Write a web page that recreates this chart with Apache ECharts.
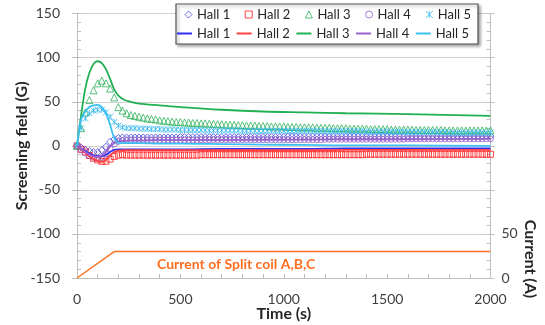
<!DOCTYPE html>
<html>
<head>
<meta charset="utf-8">
<script src="https://cdn.jsdelivr.net/npm/echarts@6/dist/echarts.min.js"></script>
<style>html,body{margin:0;padding:0;background:#fff}#c{width:545px;height:325px}</style>
</head>
<body>
<div id="c"></div>
<script>
// ---- Data ----
const legendNames = ['Hall 1', 'Hall 2', 'Hall 3', 'Hall 4', 'Hall 5'];
// marker sample times (s)
const markerT = [0,20,40,60,80,100,120,140,160,180,200,220,240,260,280,300,320,340,360,380,
400,420,440,460,480,500,520,540,560,580,600,620,640,660,680,700,720,740,760,780,
800,820,840,860,880,900,920,940,960,980,1000,1020,1040,1060,1080,1100,1120,1140,1160,1180,
1200,1220,1240,1260,1280,1300,1320,1340,1360,1380,1400,1420,1440,1460,1480,1500,1520,1540,1560,1580,
1600,1620,1640,1660,1680,1700,1720,1740,1760,1780,1800,1820,1840,1860,1880,1900,1920,1940,1960,1980,2000];
const hall1M = [0,-2,-4.5,-6,-7,-7,-5,-1,4.5,7.5,
9,9.5,9.5,9.5,9.5,9.5,9.5,9.5,9.5,9.5,
9.5,9.5,9.5,9.5,9.5,10,10,10,10,10,
10,10,10,10,10,10,10,10,10,10,
10,10,10,10,10,10,10,10,10,10,
10,10.5,10.5,10.5,10.5,10.5,10.5,10.5,10.5,10.5,
10.5,10.5,10.5,10.5,10.5,10.5,10.5,10.5,10.5,10.5,
10.5,10.5,10.5,10.5,10.5,10.5,10.5,10.5,10.5,10.5,
11,11,11,11,11,11,11,11,11,11,
11,11,11,11,11,11,11,11,11,11,11];
const hall2M = [0,-4,-7,-11,-14,-16,-17.5,-17.5,-15,-12,
-10.5,-10,-10.5,-10.5,-10.5,-10.5,-10.5,-10.5,-10.5,-10.5,
-10.5,-10.5,-10.5,-10.5,-10.5,-10.5,-10.5,-10.5,-10.5,-10.5,
-10,-10,-10,-10,-10,-10,-10,-10,-10,-10,
-10,-10,-10,-10,-10,-10,-10,-10,-10,-10,
-10,-10,-10,-10,-10,-10,-10,-10,-10,-10,
-10,-10,-10,-10,-10,-10,-10,-10,-10,-10,
-9.5,-9.5,-9.5,-9.5,-9.5,-9.5,-9.5,-9.5,-9.5,-9.5,
-9.5,-9.5,-9.5,-9.5,-9.5,-9.5,-9.5,-9.5,-9.5,-9.5,
-9.5,-9.5,-9.5,-9.5,-9.5,-9.5,-9.5,-9.5,-9.5,-9.5,-9.5];
const hall3M = [0,20,38,52,63,71,74,71,65,55,
44,40,37,35,34,33,32,31,30.5,30,
29,28.5,28,27.5,27,27,26.5,26.5,26,26,
25.5,25.5,25,25,24.5,24.5,24,24,24,23.5,
23.5,23,23,23,22.5,22.5,22.5,22,22,22,
22,21.5,21.5,21.5,21,21,21,21,20.5,20.5,
20.5,20.5,20,20,20,20,19.5,19.5,19.5,19.5,
19.5,19,19,19,19,19,18.5,18.5,18.5,18.5,
18.5,18.5,18,18,18,18,18,18,18,17.5,
17.5,17.5,17.5,17.5,17.5,17.5,17.5,17.5,17.5,17.5,17.5];
const hall4M = [0,-4,-8,-11,-13,-14,-13,-9,-3,2,
5,6,6.5,6.5,6.5,6.5,6.5,6.5,6.5,6.5,
6.5,6.5,6.5,6.5,6.5,6.5,6.5,6.5,6.5,6.5,
7,7,7,7,7,7,7,7,7,7,
7,7,7,7,7,7,7,7,7,7,
7,7,7,7,7,7,7,7,7,7,
7.5,7.5,7.5,7.5,7.5,7.5,7.5,7.5,7.5,7.5,
7.5,7.5,7.5,7.5,7.5,7.5,7.5,7.5,7.5,7.5,
8,8,8,8,8,8,8,8,8,8,
8,8,8,8,8,8,8,8,8,8,8];
const hall5M = [0,20,31,37,40,41,41,38,33,27,
23,21,20,20,20,19.5,19.5,19.5,19,19,
19,18.5,18.5,18.5,18.5,18,18,18,18,18,
18,17.5,17.5,17.5,17.5,17.5,17.5,17.5,17.5,17.5,
17,17,17,17,17,17,17,17,17,17,
17,17,17,17,17,17,17,17,17,17,
16.5,16.5,16.5,16.5,16.5,16.5,16.5,16.5,16.5,16.5,
16,16,16,16,16,16,16,16,16,16,
15.5,15.5,15.5,15.5,15.5,15.5,15.5,15.5,15.5,15.5,
15,15,15,15,15,15,15,15,15,15,15];
// solid-line sample times (s)
const lineT = [0,20,40,60,80,100,120,140,160,180,200,230,260,300,400,500,700,900,1100,1300,1600,2000];
const hall1L = [0,-3,-6,-9,-11,-12,-12,-10,-7,-4.5,-4,-4,-4,-4,-4,-4,-3.5,-3.5,-3.5,-3,-3,-3];
const hall2L = [0,-4,-8,-12,-15,-17,-18,-16,-11,-7,-5.5,-5,-5,-5,-5,-5,-5,-5,-5,-4.5,-4.5,-4.5];
const hall3L = [0,35,65,83,93,96,94,87,76,64,57,52,50,48,46,44,41,39,38,37,36,34];
const hall4L = [0,-3,-7,-10,-12,-12.5,-11,-7,-1,3,5,5.5,6,6,6.5,6.5,6.5,7,7,7.5,7.5,8];
const hall5L = [0,30,39,44,46,46.5,44,37,24,9,3.5,3,3,3,2.5,2.5,2,1.5,1,0.5,0.5,0];
// coil current
const currentT = [0,180,2000];
const currentA = [0,30,30];
const xTicks = {min:0, max:2000, step:500};
const yTicks = {min:-150, max:150, step:50};
const rTicks = {min:0, max:300, step:50, shownMax:50};

// ---- Styles ----
const colorsM = ['#4646dc', '#ff1a1a', '#2fb25a', '#8e5cc6', '#2cb5ee'];
const colorsL = ['#2e2ef5', '#ff4040', '#22b055', '#9a62cc', '#3cc0f2'];
const symbols = ['diamond', 'rect', 'triangle', 'circle', 'path://M0,0L10,10M0,10L10,0M5,0L5,10'];
const symSizes = [7, 6, 7, 6, 6];
const markerVals = [hall1M, hall2M, hall3M, hall4M, hall5M];
const lineVals = [hall1L, hall2L, hall3L, hall4L, hall5L];
const FONT = 'Lato';
const axisGray = '#bfbfbf';

const series = [];
legendNames.forEach((n, k) => {
  series.push({
    name: n, type: 'scatter', yAxisIndex: 0,
    symbol: symbols[k], symbolSize: symSizes[k],
    itemStyle: {color: 'rgba(0,0,0,0)', borderColor: colorsM[k], borderWidth: 1},
    data: markerT.map((t, i) => [t, markerVals[k][i]]),
    z: 2
  });
});
legendNames.forEach((n, k) => {
  series.push({
    name: n + '|L', type: 'line', yAxisIndex: 0, symbol: 'none', smooth: 0.3,
    lineStyle: {color: colorsL[k], width: 1.8}, itemStyle: {color: colorsL[k]},
    data: lineT.map((t, i) => [t, lineVals[k][i]]),
    z: 3
  });
});
series.push({
  name: 'Current', type: 'line', yAxisIndex: 1, symbol: 'none',
  lineStyle: {color: '#ff7020', width: 1.5},
  data: currentT.map((t, i) => [t, currentA[i]]), z: 3
});

const legendText = {fontFamily: FONT, fontSize: 13, color: '#262626'};

const option = {
  animation: false,
  textStyle: {fontFamily: FONT},
  grid: {left: 77, right: 54.5, top: 13.7, bottom: 47, containLabel: false, outerBoundsMode: 'none'},
  legend: [
    {left: 184.5, top: 8, padding: 0, itemWidth: 7, itemHeight: 7, itemGap: 14.5, selectedMode: false, z: 10,
     symbolKeepAspect: true,
     textStyle: legendText,
     data: legendNames.map((n, k) => ({
       name: n, icon: symbols[k],
       itemStyle: {color: 'rgba(0,0,0,0)', borderColor: colorsM[k], borderWidth: 1}
     }))},
    {left: 177, top: 27, padding: 0, itemWidth: 15, itemHeight: 2, itemGap: 6.5, selectedMode: false, z: 10,
     textStyle: legendText, formatter: name => name.split('|')[0],
     data: legendNames.map(n => ({name: n + '|L', icon: 'rect'}))}
  ],
  xAxis: {
    type: 'value', min: xTicks.min, max: xTicks.max, interval: xTicks.step,
    axisLine: {show: true, onZero: false, lineStyle: {color: axisGray}},
    axisTick: {show: true, inside: true, length: 4, lineStyle: {color: axisGray}},
    minorTick: {show: true, splitNumber: 5, length: 4, lineStyle: {color: axisGray}},
    splitLine: {show: false},
    axisLabel: {fontSize: 14, color: '#404040', margin: 14, fontFamily: FONT, formatter: v => String(v)},
    name: 'Time (s)', nameLocation: 'middle', nameGap: 28, nameMoveOverlap: false,
    nameTextStyle: {fontSize: 16, fontWeight: 'bold', color: '#262626', fontFamily: FONT}
  },
  yAxis: [
    {
      type: 'value', position: 'left', min: yTicks.min, max: yTicks.max, interval: yTicks.step,
      axisLine: {show: true, onZero: false, lineStyle: {color: axisGray}},
      axisTick: {show: true, length: 5, lineStyle: {color: axisGray}},
      splitLine: {show: true, lineStyle: {color: '#d0d0d0'}},
      axisLabel: {fontSize: 14, color: '#404040', margin: 17, fontFamily: FONT, formatter: v => String(v)},
      name: 'Screening field (G)', nameLocation: 'middle', nameGap: 47, nameMoveOverlap: false,
      nameTextStyle: {fontSize: 16, fontWeight: 'bold', color: '#262626', fontFamily: FONT}
    },
    {
      type: 'value', position: 'right', min: rTicks.min, max: rTicks.max, interval: rTicks.step,
      axisLine: {show: true, onZero: false, lineStyle: {color: axisGray}},
      axisTick: {show: true, length: 4, lineStyle: {color: axisGray}},
      splitLine: {show: false},
      axisLabel: {fontSize: 14, color: '#404040', margin: 11, fontFamily: FONT,
        formatter: v => (v <= rTicks.shownMax ? String(v) : '')}
    },
    {
      type: 'value', position: 'left', min: yTicks.min, max: yTicks.max, interval: 10,
      axisLine: {show: false}, axisLabel: {show: false}, splitLine: {show: false},
      axisTick: {show: true, inside: true, length: 4, lineStyle: {color: axisGray}}
    },
    {
      type: 'value', position: 'right', min: yTicks.min, max: yTicks.max, interval: 10,
      axisLine: {show: false}, axisLabel: {show: false}, splitLine: {show: false},
      axisTick: {show: true, inside: true, length: 4, lineStyle: {color: axisGray}}
    }
  ],
  graphic: [
    {type: 'rect', z: 5, shape: {x: 176, y: 4, width: 302, height: 40},
     style: {fill: '#ffffff', stroke: '#505050', lineWidth: 1.2,
       shadowBlur: 3, shadowOffsetX: 2, shadowOffsetY: 2, shadowColor: 'rgba(0,0,0,0.35)'}},
    {type: 'text', z: 5, x: 157, y: 264,
     style: {text: 'Current of Split coil A,B,C', fill: '#ff6d1f', font: 'bold 14px Lato',
       textVerticalAlign: 'middle', verticalAlign: 'middle'}},
    {type: 'text', z: 5, x: 530, y: 259, rotation: -Math.PI / 2,
     style: {text: 'Current (A)', fill: '#262626', font: 'bold 16px Lato',
       textAlign: 'center', align: 'center', textVerticalAlign: 'middle', verticalAlign: 'middle'}}
  ],
  series: series
};

const chart = echarts.init(document.getElementById('c'), null, {renderer: 'canvas'});
chart.setOption(option);
</script>
</body>
</html>
